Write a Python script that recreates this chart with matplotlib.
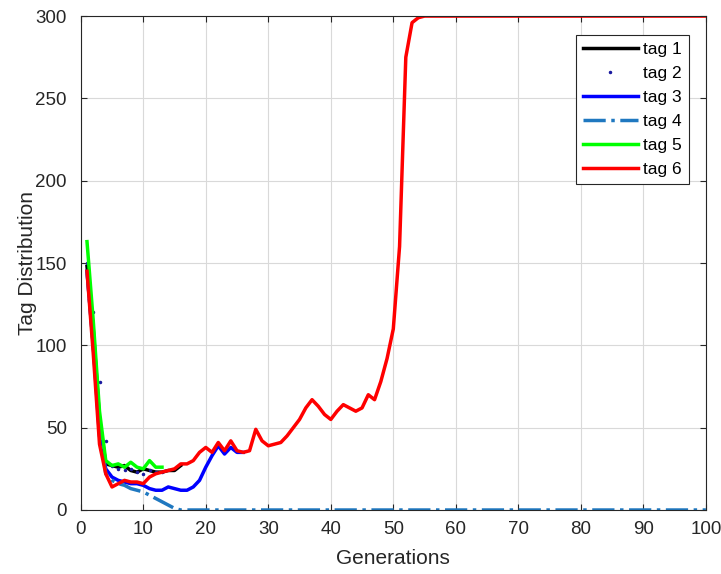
import matplotlib
matplotlib.use('Agg')
import matplotlib.pyplot as plt
import numpy as np

plt.rcParams['font.family'] = ['Liberation Sans', 'DejaVu Sans']

gen_tag1 = list(range(1, 17))
tag1 = [148, 110, 55, 28, 27, 26, 27, 24, 23, 25, 24, 23, 23, 24, 24, 27]

gen_tag2 = list(range(1, 14))
tag2 = [150, 120, 78, 42, 27, 25, 24, 25, 23, 22, 24, 23, 23]

gen_tag3 = list(range(1, 27))
tag3 = [145, 100, 45, 25, 20, 18, 17, 16, 16, 15, 13, 12, 12, 14, 13, 12,
        12, 14, 18, 26, 33, 39, 34, 38, 35, 35]

gen_tag4 = list(range(1, 101))
tag4 = [145, 100, 50, 22, 18, 16, 15, 13, 12, 11, 9, 7, 5, 3, 1] + [0] * 85

gen_tag5 = list(range(1, 14))
tag5 = [163, 115, 60, 30, 27, 28, 26, 29, 26, 25, 30, 26, 26]

gen_tag6 = list(range(1, 101))
tag6 = [145, 95, 40, 22, 14, 16, 18, 17, 17, 16, 20, 22, 23, 24, 25, 28,
        28, 30, 35, 38, 35, 41, 36, 42, 36, 35, 36, 49, 42, 39, 40, 41,
        45, 50, 55, 62, 67, 63, 58, 55, 60, 64, 62, 60, 62, 70, 67, 78,
        92, 110, 160, 275, 296, 299] + [300] * 46

fig = plt.figure(figsize=(7.21, 5.74), dpi=100)
ax = fig.add_axes([0.112, 0.1115, 0.867, 0.8605])

ax.plot(gen_tag1, tag1, color='black', lw=2.5, label='tag 1')
ax.plot(gen_tag2, tag2, color='#1a1aa0', ls='none', marker='.', ms=3, label='tag 2')
ax.plot(gen_tag3, tag3, color='#0000ff', lw=2.5, label='tag 3')
ax.plot(gen_tag4, tag4, color='#1f78c0', lw=2.5, ls='-.', label='tag 4')
ax.plot(gen_tag5, tag5, color='#00ff00', lw=2.5, label='tag 5')
ax.plot(gen_tag6, tag6, color='#ff0000', lw=2.5, label='tag 6')

ax.set_xlim(0, 100)
ax.set_ylim(0, 300)
ax.set_xticks(np.arange(0, 101, 10))
ax.set_yticks(np.arange(0, 301, 50))
ax.grid(True, color='#d9d9d9', lw=0.8)
ax.set_axisbelow(True)
ax.tick_params(direction='in', length=4, labelsize=13.5, colors='#262626',
               top=True, right=True)
ax.tick_params(axis='x', pad=8)
ax.tick_params(axis='y', pad=10)
for s in ax.spines.values():
    s.set_color('#262626')
    s.set_linewidth(0.8)

ax.set_xlabel('Generations', fontsize=15, color='#262626', labelpad=8)
ax.set_ylabel('Tag Distribution', fontsize=15, color='#262626', labelpad=-1)

leg = ax.legend(loc='upper right', bbox_to_anchor=(0.973, 0.961), fontsize=12.5,
                fancybox=False, framealpha=1, edgecolor='#262626',
                handlelength=3.2, borderpad=0.4, labelspacing=0.5,
                handletextpad=0.3, borderaxespad=0)
leg.get_frame().set_linewidth(0.8)

fig.savefig('out.png', dpi=100)
